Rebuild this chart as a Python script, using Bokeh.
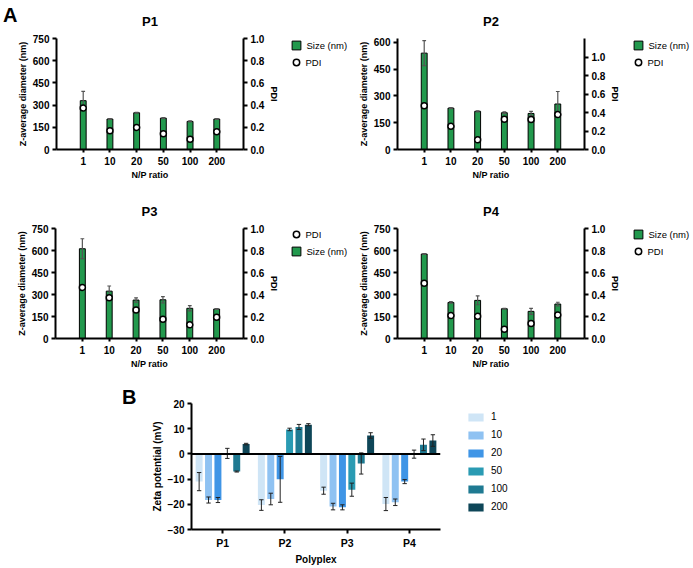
from bokeh.plotting import figure
from bokeh.models import (Range1d, FactorRange, LinearAxis, Legend, LegendItem, Div,
                          ColumnDataSource, FixedTicker, PrintfTickFormatter, Span)
from bokeh.layouts import column, row
from bokeh.transform import dodge
from bokeh.embed import file_html
from bokeh.resources import INLINE

FONT = "Liberation Sans"
GREEN = "#22994d"

# ---------------- data: panel A ----------------
np_ratios = ["1", "10", "20", "50", "100", "200"]

p1_size = [330, 206, 248, 212, 190, 206]
p1_size_err = [63, 3, 3, 3, 4, 3]
p1_pdi = [0.373, 0.168, 0.199, 0.142, 0.093, 0.160]

p2_size = [540, 232, 214, 206, 202, 255]
p2_size_err = [70, 3, 3, 5, 12, 70]
p2_pdi = [0.473, 0.251, 0.105, 0.327, 0.324, 0.378]

p3_size = [612, 323, 262, 264, 206, 201]
p3_size_err = [68, 35, 15, 22, 18, 3]
p3_pdi = [0.464, 0.370, 0.259, 0.175, 0.124, 0.193]

p4_size = [576, 246, 260, 203, 185, 235]
p4_size_err = [3, 5, 30, 3, 20, 12]
p4_pdi = [0.503, 0.208, 0.202, 0.084, 0.136, 0.214]

size_ticks_750 = [0, 150, 300, 450, 600, 750]
size_ticks_600 = [0, 150, 300, 450, 600]
pdi_ticks = [0.0, 0.2, 0.4, 0.6, 0.8, 1.0]

# ---------------- data: panel B ----------------
polyplexes = ["P1", "P2", "P3", "P4"]
zeta_levels = ["1", "10", "20", "50", "100", "200"]
zeta_1 = [-11.0, -20.3, -14.6, -19.9]
zeta_1_err = [3.6, 2.1, 1.4, 2.6]
zeta_10 = [-18.3, -17.9, -20.9, -19.2]
zeta_10_err = [1.2, 2.3, 1.3, 1.3]
zeta_20 = [-18.3, -10.1, -21.2, -11.0]
zeta_20_err = [1.0, 9.1, 1.0, 0.8]
zeta_50 = [0.2, 9.7, -14.2, -0.1]
zeta_50_err = [2.0, 0.5, 2.6, 1.6]
zeta_100 = [-7.0, 10.7, -3.8, 3.6]
zeta_100_err = [0.2, 1.0, 4.2, 2.3]
zeta_200 = [3.9, 11.6, 7.3, 5.3]
zeta_200_err = [0.3, 0.4, 1.1, 2.3]
zeta_ticks = [-30, -20, -10, 0, 10, 20]
zeta_colors = ["#cfe5f6", "#8fc2f2", "#3f95e6", "#2a9bb3", "#1f7a92", "#0e4658"]


def style_axis(ax, tick_size="10px", label_size="9px"):
    ax.axis_line_width = 2
    ax.axis_line_color = "black"
    ax.major_tick_line_width = 2
    ax.major_tick_line_color = "black"
    ax.major_tick_out = 4
    ax.major_tick_in = 0
    ax.minor_tick_line_color = None
    ax.major_label_text_font = FONT
    ax.major_label_text_font_style = "bold"
    ax.major_label_text_font_size = tick_size
    ax.major_label_text_color = "black"
    ax.axis_label_text_font = FONT
    ax.axis_label_text_font_style = "bold"
    ax.axis_label_text_font_size = label_size
    ax.axis_label_text_color = "black"
    ax.major_label_standoff = 3
    ax.axis_label_standoff = 2


def legend_canvas(width, height, x_range, y_range, top, bottom):
    # canvas next to a chart, same top/bottom borders so frames align;
    # its glyphs only feed the legend and leave no visible mark
    f = figure(width=width, height=height, x_range=x_range, y_range=y_range,
               output_backend="svg", toolbar_location=None,
               x_axis_location=None, y_axis_location=None,
               min_border_left=0, min_border_right=0, min_border_top=top,
               min_border_bottom=bottom)
    f.outline_line_color = None
    f.border_fill_color = None
    f.background_fill_color = None
    f.xgrid.visible = False
    f.ygrid.visible = False
    return f


def one_item_legend(label, renderer, glyph, cx, cy, fh, text_start):
    return Legend(items=[LegendItem(label=label, renderers=[renderer])],
                  location=(cx - glyph / 2, fh - cy - glyph / 2),
                  glyph_width=glyph, glyph_height=glyph, label_height=glyph,
                  label_standoff=max(0, round(text_start - (cx + glyph / 2))),
                  spacing=0, padding=0, margin=0,
                  border_line_color=None, background_fill_alpha=0,
                  label_text_font=FONT, label_text_font_size="9.5px",
                  label_text_color="black")


def a_panel(title, sizes, errs, pdis, y_max, y_ticks, pdi_max, size_first,
            width, height, left, right, top, bottom, leg_width, leg_left):
    fh = height - top - bottom
    p = figure(width=width, height=height,
               x_range=FactorRange(*np_ratios, range_padding=1 / 6),
               y_range=Range1d(0, y_max),
               output_backend="svg", toolbar_location=None,
               min_border_left=left, min_border_right=right,
               min_border_top=top, min_border_bottom=bottom,
               title=title)
    p.title.align = "center"
    p.title.vertical_align = "middle"
    p.title.standoff = 18
    p.title.text_font = FONT
    p.title.text_font_style = "bold"
    p.title.text_font_size = "13px"
    p.title.text_color = "black"
    p.outline_line_color = None
    p.border_fill_color = None
    p.xgrid.visible = False
    p.ygrid.visible = False
    p.extra_y_ranges = {"pdi": Range1d(0, pdi_max)}

    src = ColumnDataSource(dict(
        np=np_ratios, size=sizes, pdi=pdis,
        lo=[s - e for s, e in zip(sizes, errs)],
        hi=[s + e for s, e in zip(sizes, errs)],
    ))
    dot_style = dict(marker="circle", fill_color="white", line_color="black",
                     line_width=1.5)
    p.vbar(x="np", top="size", bottom=0, width=0.22, source=src,
           fill_color=GREEN, line_color="black", line_width=1)
    p.segment(x0="np", y0="lo", x1="np", y1="hi", source=src,
              line_color="#555555", line_width=1.2)
    for col in ("lo", "hi"):
        p.segment(x0=dodge("np", -0.07, range=p.x_range), y0=col,
                  x1=dodge("np", 0.07, range=p.x_range), y1=col, source=src,
                  line_color="#555555", line_width=1.2)
    p.scatter(x="np", y="pdi", y_range_name="pdi", source=src, size=6, **dot_style)

    p.yaxis[0].ticker = FixedTicker(ticks=y_ticks)
    p.yaxis[0].axis_label = "Z-average diameter (nm)"
    style_axis(p.yaxis[0])
    p.xaxis[0].axis_label = "N/P ratio"
    style_axis(p.xaxis[0])
    p.xaxis[0].major_tick_out = 3
    p.xaxis[0].major_label_standoff = 4
    p.xaxis[0].axis_label_standoff = 2

    rax = LinearAxis(y_range_name="pdi", axis_label="PDI",
                     ticker=FixedTicker(ticks=pdi_ticks),
                     formatter=PrintfTickFormatter(format="%.1f"))
    style_axis(rax)
    p.add_layout(rax, "right")

    # legend canvas: same data, drawn far outside its view
    lf = legend_canvas(leg_width, height, FactorRange(*np_ratios), Range1d(-2, -1),
                       top, bottom)
    rb = lf.scatter(x="np", y="size", source=src, marker="square", size=9,
                    fill_color=GREEN, line_color="black", line_width=1)
    rs = lf.scatter(x="np", y="pdi", source=src, size=6, **dot_style)
    cx = leg_left + 5.5
    text_start = leg_left + 16
    order = [("Size (nm)", rb, 22), ("PDI", rs, 16)]
    if not size_first:
        order = order[::-1]
    for k, (lab, rend, g) in enumerate(order):
        lf.add_layout(one_item_legend(lab, rend, g, cx, 7 + 17 * k, fh, text_start))
    return p, lf


def letter_div(letter, width, height, left, top):
    return Div(text=('<div style="margin-left:%dpx;margin-top:%dpx;font-family:\'%s\';'
                     'font-weight:bold;font-size:20px;line-height:23px;color:black;'
                     'white-space:nowrap">%s</div>'
                     % (left, top, FONT, letter)),
               width=width, height=height, margin=0,
               styles={"overflow": "visible"})


div_a = letter_div("A", 14, 190, 3, 4)
f1, l1 = a_panel("P1", p1_size, p1_size_err, p1_pdi, 750, size_ticks_750, 1.0, True,
                 268, 190, 41, 38, 38, 41, 68, 8)
f2, l2 = a_panel("P2", p2_size, p2_size_err, p2_pdi, 622, size_ticks_600, 1.2, True,
                 273, 190, 47, 38, 38, 41, 69, 9)
f3, l3 = a_panel("P3", p3_size, p3_size_err, p3_pdi, 750, size_ticks_750, 1.0, False,
                 282, 181, 55, 38, 38, 32, 68, 8)
f4, l4 = a_panel("P4", p4_size, p4_size_err, p4_pdi, 750, size_ticks_750, 1.0, True,
                 273, 181, 47, 38, 38, 32, 69, 9)

# ---------------- panel B ----------------
bw, bh, bl, br, bt, bb = 302, 196, 51, 2, 32, 38
bfh = bh - bt - bb
fb = figure(width=bw, height=bh, x_range=FactorRange(*polyplexes, range_padding=0),
            y_range=Range1d(-30, 20), output_backend="svg", toolbar_location=None,
            min_border_left=bl, min_border_right=br, min_border_top=bt,
            min_border_bottom=bb)
fb.outline_line_color = None
fb.border_fill_color = None
fb.xgrid.visible = False
fb.ygrid.visible = False

lb = legend_canvas(250, bh, FactorRange(*polyplexes), Range1d(-30, 20), bt, bb)

zeta_vals = [zeta_1, zeta_10, zeta_20, zeta_50, zeta_100, zeta_200]
zeta_errs = [zeta_1_err, zeta_10_err, zeta_20_err, zeta_50_err, zeta_100_err, zeta_200_err]
b_items = []
step = 0.151
for i, (lvl, vals, errs, col) in enumerate(zip(zeta_levels, zeta_vals, zeta_errs, zeta_colors)):
    off = (i - 2.5) * step
    src = ColumnDataSource(dict(g=polyplexes, v=vals,
                                lo=[v - e for v, e in zip(vals, errs)],
                                hi=[v + e for v, e in zip(vals, errs)]))
    fb.vbar(x=dodge("g", off, range=fb.x_range), top="v", bottom=0, width=0.112,
            source=src, fill_color=col, line_color=None)
    fb.segment(x0=dodge("g", off, range=fb.x_range), y0="lo",
               x1=dodge("g", off, range=fb.x_range), y1="hi", source=src,
               line_color="#222222", line_width=1)
    for c in ("lo", "hi"):
        fb.segment(x0=dodge("g", off - 0.035, range=fb.x_range), y0=c,
                   x1=dodge("g", off + 0.035, range=fb.x_range), y1=c, source=src,
                   line_color="#222222", line_width=1)
    # zero-height proxy bars: they feed the legend swatch only
    r = lb.vbar(x=dodge("g", off, range=lb.x_range), top="v", bottom="v", width=0.112,
                source=src, fill_color=col, line_color=None)
    b_items.append(LegendItem(label=lvl, renderers=[r]))

fb.add_layout(Span(location=0, dimension="width", line_color="black", line_width=2))

fb.yaxis[0].ticker = FixedTicker(ticks=zeta_ticks)
fb.yaxis[0].axis_label = "Zeta potential (mV)"
style_axis(fb.yaxis[0], tick_size="10px", label_size="10px")
fb.xaxis[0].axis_label = "Polyplex"
style_axis(fb.xaxis[0], tick_size="10.5px", label_size="10px")
fb.xaxis[0].major_label_standoff = 3
fb.xaxis[0].axis_label_standoff = 2

lb.add_layout(Legend(items=b_items, location=(24, bfh - 14.3 - 95),
                     glyph_width=19, glyph_height=10, label_height=10, label_standoff=6,
                     spacing=7, padding=0, margin=0, border_line_color=None,
                     background_fill_alpha=0, label_text_font=FONT,
                     label_text_font_size="10px", label_text_color="black"))

div_b = letter_div("B", 140, 196, 122, 15)

layout = column(row(div_a, f1, l1, f2, l2), row(f3, l3, f4, l4), row(div_b, fb, lb))
open("out.html", "w").write(file_html(layout, INLINE))
